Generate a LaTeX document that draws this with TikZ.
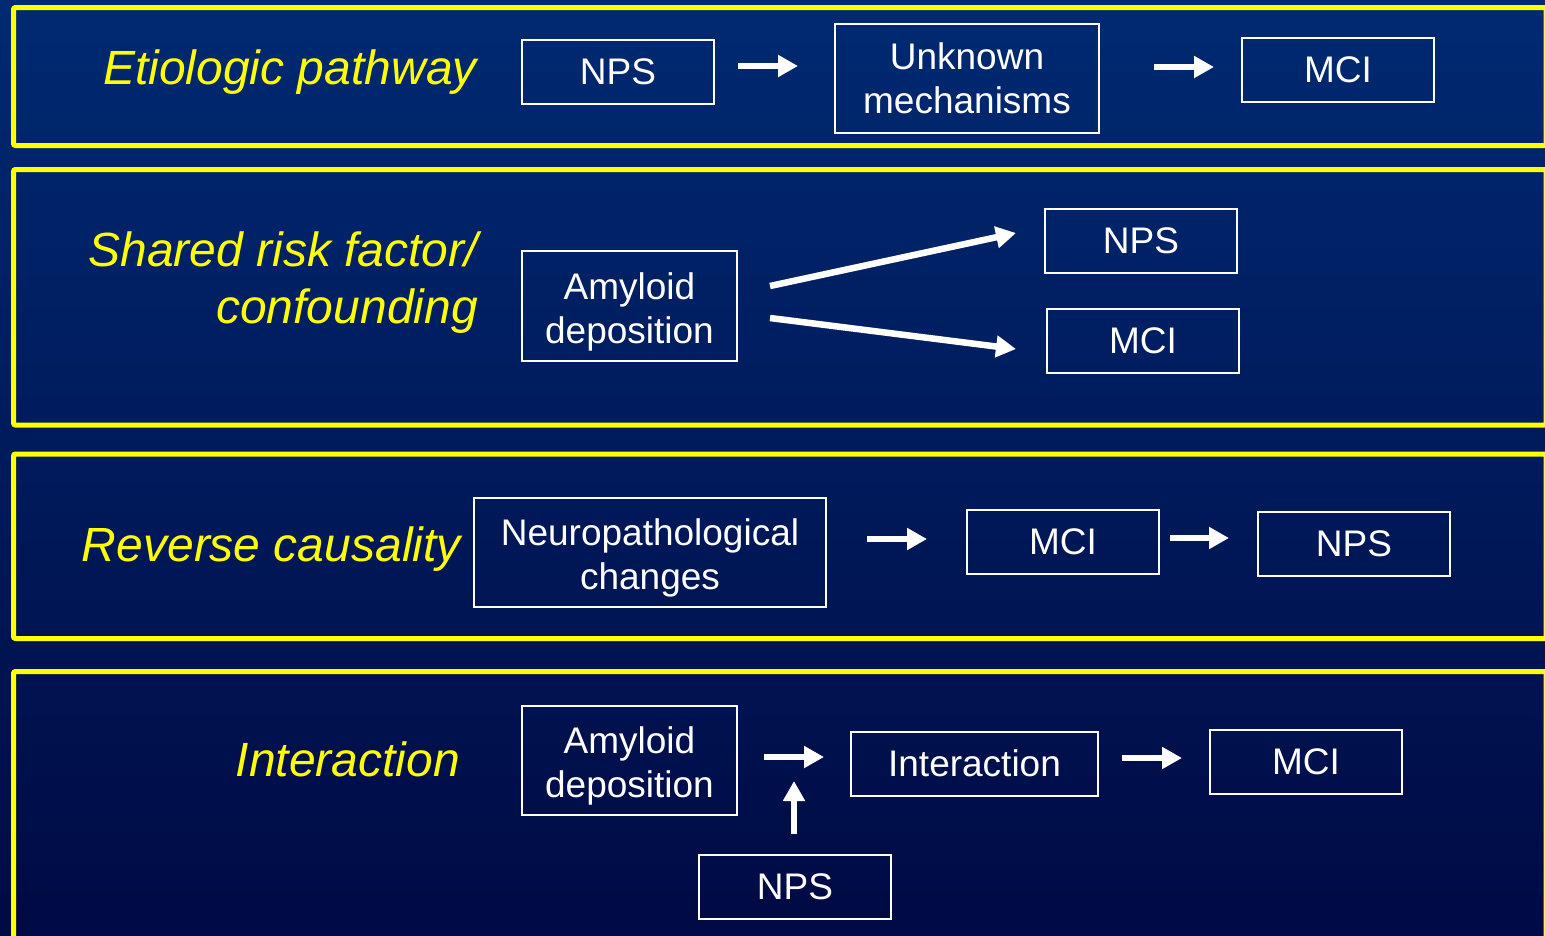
\documentclass[tikz,border=0pt]{standalone}
\usepackage{fontspec}
\setmainfont{Liberation Sans}
\usetikzlibrary{arrows.meta}
\definecolor{bgtop}{HTML}{002A72}
\definecolor{bgbot}{HTML}{000A44}
\definecolor{frameyel}{HTML}{FFFF00}
\newcommand{\upstrut}{\rule{0pt}{38pt}}
\tikzset{
  frame/.style={draw=frameyel, line width=5pt, rounded corners=2pt},
  box/.style={draw=white, line width=2pt, text=white, align=center,
    font=\fontsize{37}{44}\selectfont, inner sep=0pt},
  lab/.style={text=frameyel, align=right, inner sep=0pt,
    font=\fontsize{48}{57}\selectfont\itshape},
  arr/.style={draw=white, line width=6.5pt, -{Triangle[length=20pt,width=21pt]}}
}
\begin{document}
\begin{tikzpicture}[x=1pt,y=-1pt]
\useasboundingbox (0,0) rectangle (1545,935);
\clip (0,0) rectangle (1545,935);
\shade[top color=bgtop, bottom color=bgbot] (0,0) rectangle (1545,935);
% frames
\draw[frame] (13.5,7.5) rectangle (1546,145.5);
\draw[frame] (13.5,169.5) rectangle (1546,425);
\draw[frame] (13.5,454) rectangle (1546,638.5);
\draw[frame] (13.5,671.5) rectangle (1546,960);
% row 1
\node[lab, anchor=east] (l1) at (477,72) {Etiologic pathway};
\node[box, minimum width=192, minimum height=64] (n1) at (618,72) {NPS};
\node[box, minimum width=264, minimum height=109] (u1) at (967,78.5) {Unknown\\mechanisms};
\node[box, minimum width=192, minimum height=64] (m1) at (1338,70) {MCI};
\draw[arr] ([shift={(23,-6)}]n1.east) -- ([shift={(-36,-12.5)}]u1.west);
\draw[arr] ([shift={(54,-11.5)}]u1.east) -- ([shift={(-27,-3)}]m1.west);
% row 2
\node[lab, anchor=east] (l2) at (478,283) {Shared risk factor/\\confounding};
\node[box, minimum width=215, minimum height=110] (a2) at (629.5,306) {\upstrut Amyloid\\deposition};
\node[box, minimum width=192, minimum height=64] (n2) at (1141,241) {NPS};
\node[box, minimum width=192, minimum height=64] (m2) at (1143,341) {MCI};
\draw[arr] ([shift={(32,-20)}]a2.east) -- ([shift={(-28,-8)}]n2.west);
\draw[arr] ([shift={(32,12)}]a2.east) -- ([shift={(-30,8)}]m2.west);
% row 3
\node[lab, anchor=east] (l3) at (461,549) {Reverse causality};
\node[box, minimum width=352, minimum height=109] (c3) at (650,552.5) {\upstrut Neuropathological\\changes};
\node[box, minimum width=192, minimum height=64] (m3) at (1063,542) {MCI};
\node[box, minimum width=192, minimum height=64] (n3) at (1354,543.5) {NPS};
\draw[arr] ([shift={(40,-13.5)}]c3.east) -- ([shift={(-39,-3)}]m3.west);
\draw[arr] ([shift={(10,-4)}]m3.east) -- ([shift={(-28,-5.5)}]n3.west);
% row 4
\node[lab, anchor=east] (l4) at (460,759) {Interaction};
\node[box, minimum width=215, minimum height=109] (a4) at (629.5,760.5) {\upstrut Amyloid\\deposition};
\node[box, minimum width=247, minimum height=64] (i4) at (974.5,763.5) {Interaction};
\node[box, minimum width=192, minimum height=64] (m4) at (1306,761.5) {MCI};
\node[box, minimum width=192, minimum height=64] (n4) at (795,887) {NPS};
\coordinate (up4) at ([shift={(-1,-73)}]n4.north);
\draw[arr] ([shift={(26,-3.5)}]a4.east) -- ([shift={(-26,-6.5)}]i4.west);
\draw[arr] ([shift={(23,-5.5)}]i4.east) -- ([shift={(-27,-3.5)}]m4.west);
\draw[arr] ([shift={(-1,-20)}]n4.north) -- (up4);
\end{tikzpicture}
\end{document}
